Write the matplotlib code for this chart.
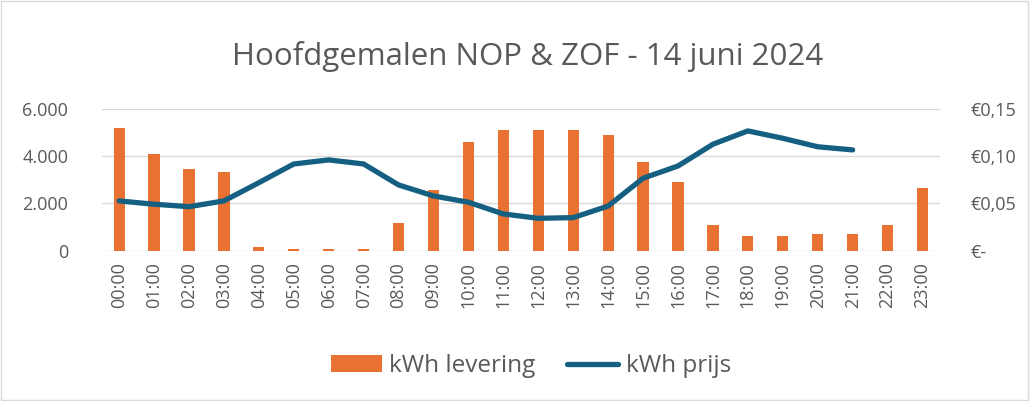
import matplotlib
matplotlib.use('Agg')
import matplotlib.pyplot as plt
from matplotlib.patches import Rectangle
from matplotlib.ticker import FuncFormatter, MultipleLocator
import numpy as np

plt.rcParams['font.family'] = ['Open Sans', 'DejaVu Sans']

hours = ['%02d:00' % h for h in range(24)]
levering = [5200, 4080, 3460, 3340, 160, 90, 90, 90, 1160, 2590, 4620, 5090,
            5090, 5090, 4890, 3750, 2920, 1100, 620, 620, 700, 700, 1100, 2640]
prijs = [0.0527, 0.0492, 0.0466, 0.0527, 0.0720, 0.0918, 0.0961, 0.0918,
         0.0696, 0.0580, 0.0513, 0.0389, 0.0343, 0.0350, 0.0473, 0.0767,
         0.0897, 0.1127, 0.1268, 0.1190, 0.1100, 0.1067]

grey = '#595959'
orange = '#E97132'
blue = '#156082'

fig = plt.figure(figsize=(10.30, 4.01), dpi=100)
fig.patches.append(Rectangle((0.001, 0.002), 0.997, 0.995, transform=fig.transFigure,
                             fill=False, edgecolor='#D9D9D9', linewidth=1))

ax = fig.add_axes([0.0987, 0.3748, 0.8139, 0.3534])
x = np.arange(len(hours))
bars = ax.bar(x, levering, width=0.32, color=orange, label='kWh levering', zorder=2)
ax.set_xlim(-0.5, len(hours) - 0.5)
ax.set_ylim(0, 6000)
ax.yaxis.set_major_locator(MultipleLocator(2000))
ax.yaxis.set_major_formatter(FuncFormatter(lambda v, p: '{:,.0f}'.format(v).replace(',', '.')))
ax.grid(axis='y', color='#D9D9D9', linewidth=1, zorder=0)
ax.set_xticks(x)
ax.set_xticklabels(hours, rotation=90)
for s in ax.spines.values():
    s.set_visible(False)
ax.tick_params(length=0, colors=grey, labelsize=13)
ax.tick_params(axis='y', pad=24)
ax.tick_params(axis='x', pad=8)

ax2 = ax.twinx()
line, = ax2.plot(x[:len(prijs)], prijs, color=blue, linewidth=3.8,
                 solid_joinstyle='round', solid_capstyle='round', label='kWh prijs', zorder=3)
ax2.set_ylim(0, 0.15)
ax2.yaxis.set_major_locator(MultipleLocator(0.05))
ax2.yaxis.set_major_formatter(FuncFormatter(
    lambda v, p: '€-' if abs(v) < 1e-9 else '€' + ('%.2f' % v).replace('.', ',')))
for s in ax2.spines.values():
    s.set_visible(False)
ax2.tick_params(length=0, colors=grey, labelsize=13, pad=22)

fig.text(0.512, 0.86, 'Hoofdgemalen NOP & ZOF - 14 juni 2024', ha='center', va='center',
         fontsize=22.5, color=grey)

fig.legend([bars, line], ['kWh levering', 'kWh prijs'], loc='center',
           bbox_to_anchor=(0.5155, 0.087), ncol=2, frameon=False, fontsize=17.5,
           labelcolor=grey, handlelength=2.1, handleheight=0.7, handletextpad=0.3,
           columnspacing=1.3)

fig.savefig('out.png', dpi=100)
